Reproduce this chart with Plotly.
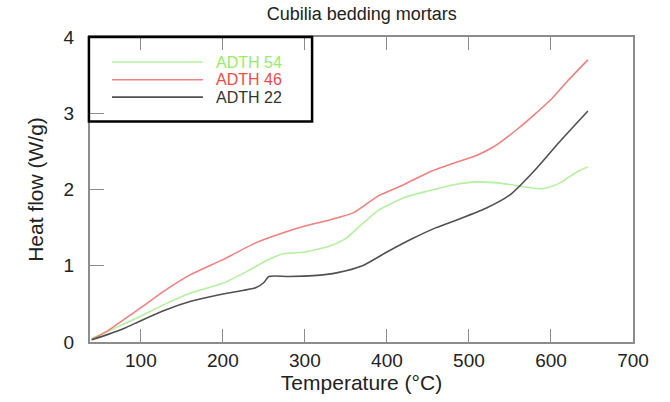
import plotly.graph_objects as go

# ---- data ----
x_54 = [40, 60, 80, 100, 130, 160, 200, 230, 255, 275, 300, 330, 350, 370, 390, 420, 450, 480, 510, 540, 570, 590, 610, 630, 645]
y_54 = [0.05, 0.14, 0.24, 0.34, 0.50, 0.64, 0.77, 0.93, 1.08, 1.16, 1.18, 1.26, 1.36, 1.55, 1.73, 1.89, 1.98, 2.06, 2.10, 2.08, 2.03, 2.01, 2.08, 2.22, 2.30]

x_46 = [40, 60, 80, 100, 130, 160, 200, 240, 270, 300, 330, 360, 390, 420, 450, 480, 510, 530, 560, 600, 620, 645]
y_46 = [0.03, 0.15, 0.30, 0.45, 0.68, 0.88, 1.08, 1.30, 1.42, 1.52, 1.60, 1.70, 1.92, 2.06, 2.22, 2.34, 2.45, 2.56, 2.80, 3.18, 3.42, 3.70]

x_22 = [40, 60, 80, 100, 130, 160, 200, 240, 250, 256, 280, 310, 340, 370, 400, 430, 460, 490, 520, 550, 580, 610, 645]
y_22 = [0.03, 0.10, 0.18, 0.28, 0.42, 0.53, 0.63, 0.71, 0.78, 0.86, 0.86, 0.87, 0.91, 1.00, 1.18, 1.35, 1.50, 1.62, 1.75, 1.93, 2.25, 2.62, 3.03]

series_names = ["ADTH 54", "ADTH 46", "ADTH 22"]
line_colors = ["#b4f0a0", "#f08080", "#505050"]
text_colors = ["#98ec6c", "#f04a4a", "#333333"]

x_ticks = [100, 200, 300, 400, 500, 600, 700]
y_ticks = [0, 1, 2, 3, 4]

FONT = "Liberation Sans, Arial, sans-serif"

fig = go.Figure()
for xs, ys, name, col in zip([x_54, x_46, x_22], [y_54, y_46, y_22], series_names, line_colors):
    fig.add_trace(go.Scatter(x=xs, y=ys, mode="lines", name=name,
                             line=dict(color=col, width=1.6, shape="spline", smoothing=0.6),
                             showlegend=False))

# manual legend box
legend_y = [0.918, 0.860, 0.803]
shapes = [dict(type="rect", xref="paper", yref="paper", x0=-0.002, x1=0.409, y0=0.723, y1=1.0,
               line=dict(color="black", width=2.5), fillcolor="rgba(0,0,0,0)")]
annotations = []
for yy, name, lc, tc in zip(legend_y, series_names, line_colors, text_colors):
    shapes.append(dict(type="line", xref="paper", yref="paper", x0=0.0405, x1=0.208, y0=yy, y1=yy,
                       line=dict(color=lc, width=1.6)))
    annotations.append(dict(xref="paper", yref="paper", x=0.228, y=yy, text=name, showarrow=False,
                            xanchor="left", yanchor="middle",
                            font=dict(family=FONT, size=16, color=tc)))

fig.update_layout(
    width=670, height=402,
    margin=dict(l=90, r=37, t=37, b=52),
    paper_bgcolor="white", plot_bgcolor="white",
    title=dict(text="Cubilia bedding mortars", x=0.54, xanchor="center", y=0.967, yanchor="middle",
               font=dict(family=FONT, size=18, color="#222222")),
    shapes=shapes, annotations=annotations,
    showlegend=False,
)
fig.update_xaxes(range=[38, 700], tickvals=x_ticks, ticks="inside", ticklen=13, tickcolor="#8c8c8c",
                 showline=True, linecolor="#8c8c8c", linewidth=2, mirror="ticks", showgrid=False,
                 zeroline=False,
                 tickfont=dict(family=FONT, size=19, color="#222222"),
                 title=dict(text="Temperature (°C)", font=dict(family=FONT, size=21, color="#222222"), standoff=5))
fig.update_yaxes(range=[0, 4], tickvals=y_ticks, ticks="inside", ticklen=14, tickcolor="#8c8c8c",
                 showline=True, linecolor="#8c8c8c", linewidth=2, mirror=True, showgrid=False,
                 zeroline=False, ticklabelstandoff=10,
                 tickfont=dict(family=FONT, size=19, color="#222222"),
                 title=dict(text="Heat flow (W/g)", font=dict(family=FONT, size=21, color="#222222"), standoff=14))

fig.write_html("out.html")
